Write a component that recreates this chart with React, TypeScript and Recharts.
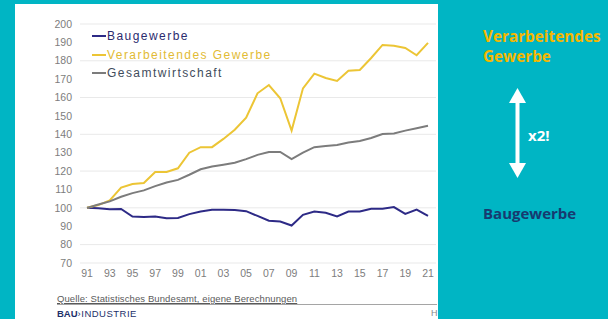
import { LineChart, Line, XAxis, YAxis, CartesianGrid } from "recharts";

const years = [
  "91", "92", "93", "94", "95", "96", "97", "98", "99", "00", "01", "02", "03", "04", "05", "06",
  "07", "08", "09", "10", "11", "12", "13", "14", "15", "16", "17", "18", "19", "20", "21",
];

const baugewerbe = [
  100, 99.8, 99.2, 99.4, 95.3, 95, 95.3, 94.3, 94.5, 96.6, 98, 98.9, 99, 98.8, 98.2, 95.6,
  93, 92.6, 90.4, 96.2, 98, 97.3, 95.3, 98, 98, 99.5, 99.5, 100.4, 96.7, 99, 95.6,
];

const verarbeitendes = [
  100, 101.5, 104, 111, 113, 113.5, 119.5, 119.5, 121.5, 130, 133, 133, 137.5, 142.5, 149, 162.3,
  166.8, 159.6, 142, 165, 173, 170.6, 169, 174.6, 175, 181.5, 188.6, 188.2, 187, 183, 189.7,
];

const gesamt = [
  100, 101.8, 103.5, 106, 108, 109.5, 111.8, 113.8, 115.2, 118, 121, 122.5, 123.5, 124.5, 126.5, 128.8,
  130.4, 130.4, 126.5, 130, 133, 133.7, 134.2, 135.5, 136.4, 138, 140.2, 140.5, 142, 143.3, 144.6,
];

const yTicks = [70, 80, 90, 100, 110, 120, 130, 140, 150, 160, 170, 180, 190, 200];

const series = [
  { key: "bau", name: "Baugewerbe", stroke: "#2d2a86", text: "#2b2b6e" },
  { key: "ver", name: "Verarbeitendes Gewerbe", stroke: "#ecc535", text: "#e2bb34" },
  { key: "ges", name: "Gesamtwirtschaft", stroke: "#7c7c7c", text: "#3f4c5c" },
];

const data = years.map((y, i) => ({
  year: y,
  bau: baugewerbe[i],
  ver: verarbeitendes[i],
  ges: gesamt[i],
}));

const teal = "#00b5c4";
const tickStyle = { fill: "#7d7d7d", fontSize: 10.5, fontFamily: "'Liberation Sans', Arial, sans-serif" };

export default function App() {
  return (
    <div
      style={{
        position: "absolute",
        left: 0,
        top: 0,
        width: 608,
        height: 319,
        background: teal,
        overflow: "hidden",
        fontFamily: "'Liberation Sans', Arial, sans-serif",
      }}
    >
      {/* white slide panel */}
      <div style={{ position: "absolute", left: 15, top: 4, width: 423, height: 315, background: "#fff" }} />

      <div style={{ position: "absolute", left: 0, top: 0 }}>
        <LineChart width={608} height={319} data={data} margin={{ top: 24, right: 172, bottom: 36, left: 20 }}>
          <CartesianGrid vertical={false} stroke="#e9e9e9" strokeWidth={1} />
          <XAxis
            dataKey="year"
            interval={1}
            height={20}
            axisLine={false}
            tickLine={false}
            tickSize={0}
            tickMargin={7}
            padding={{ left: 7, right: 8 }}
            tick={tickStyle}
          />
          <YAxis
            width={60}
            domain={[70, 200]}
            ticks={yTicks}
            axisLine={false}
            tickLine={false}
            tickSize={0}
            tickMargin={8}
            tick={tickStyle}
          />
          {series.map((s) => (
            <Line
              key={s.key}
              type="linear"
              dataKey={s.key}
              name={s.name}
              stroke={s.stroke}
              strokeWidth={2}
              dot={false}
              isAnimationActive={false}
            />
          ))}
        </LineChart>
      </div>

      {/* legend */}
      <div style={{ position: "absolute", left: 92, top: 27 }}>
        {series.map((s) => (
          <div key={s.key} style={{ display: "flex", alignItems: "center", height: 18.5 }}>
            <div style={{ width: 14, height: 2, background: s.stroke }} />
            <span style={{ marginLeft: 1, fontSize: 12, letterSpacing: 1.45, color: s.text }}>{s.name}</span>
          </div>
        ))}
      </div>

      {/* source */}
      <div
        style={{
          position: "absolute",
          left: 57,
          top: 294,
          width: 380,
          fontSize: 9.5,
          letterSpacing: 0.1,
          color: "#5a5a5a",
          borderBottom: "1.5px solid #a5a5a5",
          lineHeight: "10px",
          textDecoration: "underline",
        }}
      >
        Quelle: Statistisches Bundesamt, eigene Berechnungen
      </div>
      <div style={{ position: "absolute", left: 57, top: 308, fontSize: 9.5, color: "#1d2f6a", lineHeight: "11px" }}>
        <b>BAU</b>
        <span style={{ letterSpacing: 0.5 }}>›INDUSTRIE</span>
      </div>
      <div style={{ position: "absolute", left: 431, top: 308, fontSize: 9, color: "#888", lineHeight: "11px" }}>H</div>

      {/* right annotation */}
      <div
        style={{
          position: "absolute",
          left: 483,
          top: 26,
          fontFamily: "'Open Sans', sans-serif",
          fontWeight: 700,
          fontSize: 15.3,
          lineHeight: "20px",
          color: "#f5b700",
        }}
      >
        Verarbeitendes
        <br />
        Gewerbe
      </div>
      <svg style={{ position: "absolute", left: 500, top: 80 }} width={40} height={110}>
        <rect x={15.5} y={20} width={4} height={66} fill="#fff" />
        <polygon points="17.5,8 9,23 26,23" fill="#fff" />
        <polygon points="17.5,98 9,83 26,83" fill="#fff" />
      </svg>
      <div
        style={{
          position: "absolute",
          left: 528,
          top: 125,
          fontFamily: "'Open Sans', sans-serif",
          fontWeight: 700,
          fontSize: 15,
          lineHeight: "20px",
          color: "#fff",
        }}
      >
        x2!
      </div>
      <div
        style={{
          position: "absolute",
          left: 483,
          top: 203,
          fontFamily: "'Open Sans', sans-serif",
          fontWeight: 700,
          fontSize: 15,
          lineHeight: "20px",
          color: "#173a70",
        }}
      >
        Baugewerbe
      </div>
    </div>
  );
}
